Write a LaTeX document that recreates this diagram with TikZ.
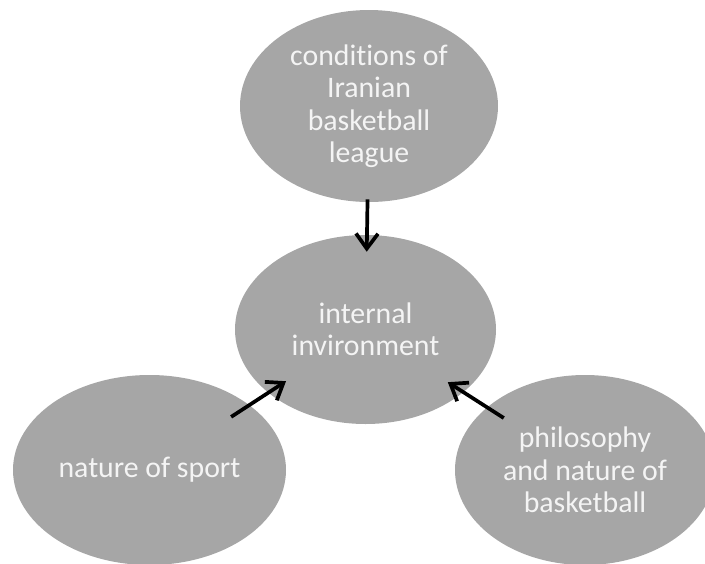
\documentclass[tikz,border=0pt]{standalone}
\usepackage{fontspec}
\setmainfont{Carlito}[Ligatures=NoCommon]
\usetikzlibrary{shapes.geometric,arrows.meta,calc}
\definecolor{bubblegray}{HTML}{A6A6A6}
\definecolor{bubbletext}{HTML}{F4F4F4}
\tikzset{
  bubble/.style={ellipse, fill=bubblegray, inner sep=0pt, align=center,
    text=bubbletext, font=\fontsize{29.8}{32.5}\selectfont},
  link/.style={-{Straight Barb[length=15pt,width=22pt]}, line width=3.7pt, black},
}
\begin{document}
\begin{tikzpicture}[x=1pt,y=-1pt]
\useasboundingbox (0,0) rectangle (705,563);
\clip (0,0) rectangle (705,563);

% Ellipses
\node[bubble, minimum width=258pt, minimum height=192pt] (league) at (369,106)
  {conditions of\\Iranian\\basketball\\league};
\node[bubble, minimum width=261pt, minimum height=189pt] (internal) at (365.5,329.5)
  {internal\\invironment};
\node[bubble, minimum width=273pt, minimum height=190pt] (sport) at (149.5,470)
  {nature of sport};
\node[bubble, minimum width=260pt, minimum height=190pt] (philosophy) at (585,470)
  {philosophy\\and nature of\\basketball};

% Arrows
\draw[link] ($(league)!0.418!(internal)$) -- ($(league)!0.652!(internal)$);
\draw[link] ($(sport)!0.378!(internal)$) -- ($(sport)!0.632!(internal)$);
\draw[link] ($(philosophy)!0.37!(internal)$) -- ($(philosophy)!0.625!(internal)$);
\end{tikzpicture}
\end{document}
